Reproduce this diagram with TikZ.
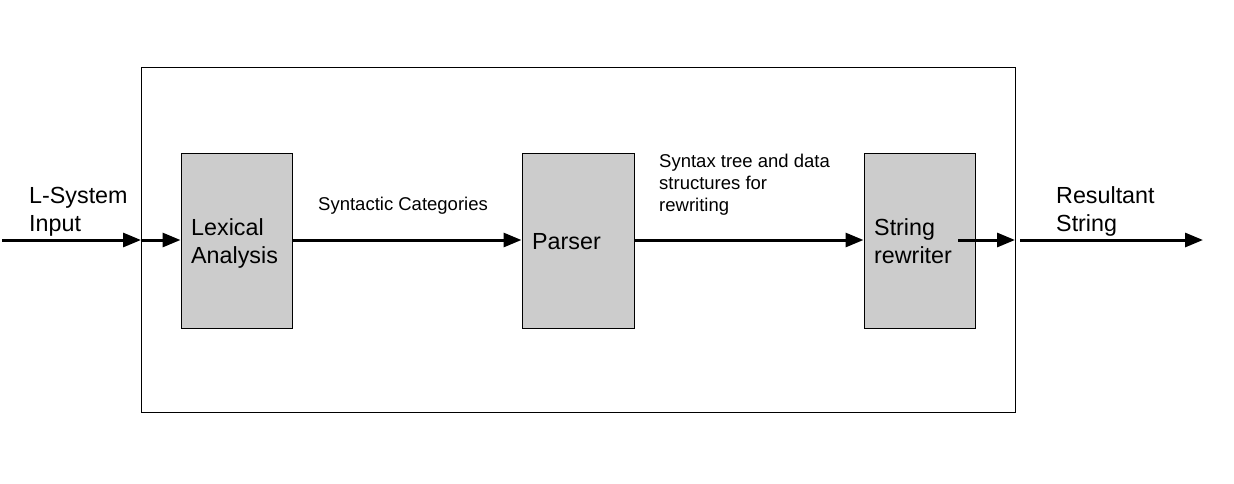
\documentclass[tikz,border=0pt]{standalone}
\usepackage{fontspec}
\setmainfont{Liberation Sans}
\usetikzlibrary{arrows.meta}
\begin{document}
\begin{tikzpicture}[x=1pt,y=-1pt,
  stage/.style={draw=black,line width=1pt,fill=black!20,minimum width=111pt,minimum height=175pt,inner sep=0pt},
  frame/.style={draw=black,line width=1pt,minimum width=874pt,minimum height=345pt,inner sep=0pt},
  flow/.style={line width=3pt,-{Triangle[length=18pt,width=14pt]}},
  bigtxt/.style={inner sep=0pt,anchor=base west,align=left,font=\fontsize{23.3}{28}\selectfont},
  smalltxt/.style={inner sep=0pt,anchor=base west,align=left,font=\fontsize{18.5}{22}\selectfont}]
\useasboundingbox (0,0) rectangle (1234,483);
\node[frame] (outer) at (578,239.5) {};
\node[stage] (lex) at (236.5,240.5) {};
\node[stage,minimum width=112pt] (parser) at (578,240.5) {};
\node[stage] (sr) at (919.5,240.5) {};
\coordinate (inL) at (2,240);
\coordinate (oL) at (141,240);
\coordinate (srout) at (958,240);
\coordinate (oR) at (1015,240);
\coordinate (resL) at (1020,240);
\coordinate (resR) at (1203,240);
\draw[flow] (inL) -- (oL);
\draw[flow] (oL) -- (lex.west |- oL);
\draw[flow] (lex.east |- oL) -- (parser.west |- oL);
\draw[flow] (parser.east |- oL) -- (sr.west |- oL);
\draw[flow] (srout) -- (oR);
\draw[flow] (resL) -- (resR);
\node[bigtxt] (tin) at (29,231) {L-System\\Input};
\node[bigtxt] (tlex) at (191,263) {Lexical\\Analysis};
\node[bigtxt] (tpar) at (532,249) {Parser};
\node[bigtxt] (tsr) at (874,263) {String\\rewriter};
\node[bigtxt] (tres) at (1056,231) {Resultant\\String};
\node[smalltxt] (tcat) at (318,210) {Syntactic Categories};
\node[smalltxt] (ttree) at (659,211) {Syntax tree and data\\structures for\\rewriting};
\end{tikzpicture}
\end{document}
